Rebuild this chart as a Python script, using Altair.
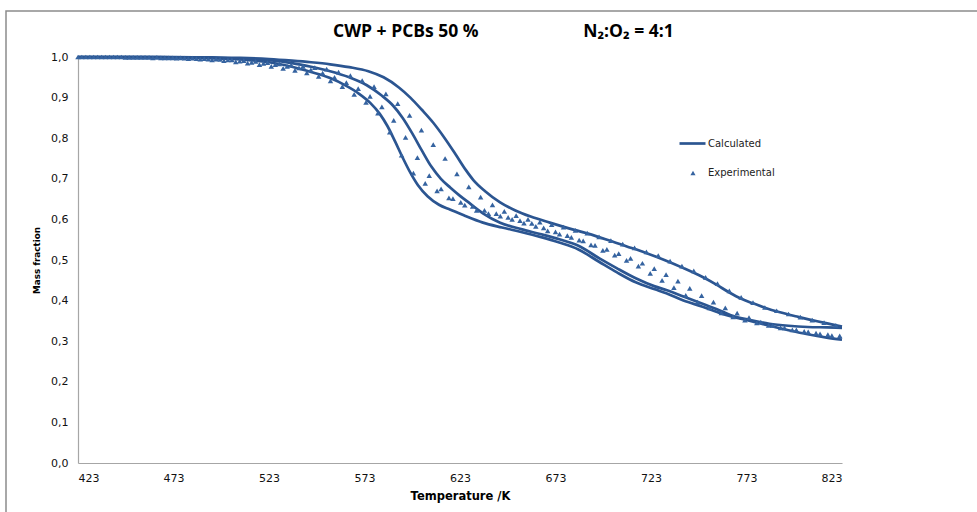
import altair as alt
import pandas as pd

LINE_COLOR = "#2B5591"
POINT_COLOR = "#3563A0"

# Calculated mass-fraction curves (three runs)
calc_a_t = [423, 450, 473, 493, 508, 523, 535, 545, 555, 563, 570, 576, 581, 585, 589, 593, 597, 601, 606, 612,
            618, 625, 635, 645, 655, 665, 675, 685, 696, 705, 715, 725, 731, 740, 750, 760, 766, 775, 785, 795,
            805, 815, 823]
calc_a_v = [1.000, 1.000, 0.999, 0.997, 0.994, 0.987, 0.976, 0.963, 0.948, 0.930, 0.910, 0.887, 0.860, 0.830,
            0.792, 0.752, 0.715, 0.684, 0.657, 0.636, 0.624, 0.610, 0.592, 0.580, 0.569, 0.557, 0.543, 0.526,
            0.495, 0.470, 0.445, 0.428, 0.418, 0.400, 0.385, 0.368, 0.360, 0.350, 0.338, 0.327, 0.317, 0.309,
            0.304]

calc_b_t = [423, 450, 473, 493, 508, 523, 535, 545, 555, 565, 574, 582, 588, 593, 598, 603, 608, 613, 618, 623,
            628, 635, 644, 655, 665, 675, 685, 696, 705, 715, 725, 731, 740, 750, 760, 766, 775, 785, 795, 805,
            815, 823]
calc_b_v = [1.000, 1.000, 0.999, 0.998, 0.996, 0.992, 0.985, 0.976, 0.965, 0.950, 0.931, 0.905, 0.880, 0.850,
            0.812, 0.770, 0.730, 0.700, 0.678, 0.658, 0.640, 0.615, 0.592, 0.576, 0.564, 0.551, 0.535, 0.504,
            0.480, 0.455, 0.435, 0.426, 0.410, 0.392, 0.374, 0.362, 0.352, 0.343, 0.338, 0.335, 0.334, 0.333]

calc_c_t = [423, 450, 473, 493, 508, 523, 535, 545, 555, 565, 575, 583, 591, 597, 603, 609, 615, 621, 626, 630,
            636, 644, 652, 660, 670, 680, 690, 700, 710, 720, 730, 740, 750, 757, 764, 770, 776, 783, 790, 800,
            810, 817, 823]
calc_c_v = [1.000, 1.000, 1.000, 0.999, 0.998, 0.995, 0.991, 0.987, 0.982, 0.975, 0.965, 0.950, 0.925, 0.900,
            0.870, 0.838, 0.800, 0.758, 0.722, 0.697, 0.670, 0.642, 0.622, 0.607, 0.592, 0.578, 0.565, 0.550,
            0.534, 0.518, 0.500, 0.480, 0.458, 0.440, 0.420, 0.405, 0.394, 0.382, 0.372, 0.360, 0.349, 0.342,
            0.336]

# Experimental mass fractions (three runs)
exp_a_t = [425.0, 431.2, 437.4, 443.6, 449.8, 456.0, 462.2, 468.4, 474.6, 480.8, 487.0, 493.2, 499.4, 505.6,
           511.8, 518.0, 524.2, 530.4, 536.6, 542.8, 549.0, 555.2, 561.4, 567.6, 573.8, 580.0, 586.2, 592.4,
           598.6, 604.8, 611.0, 617.2, 623.4, 629.6, 635.8, 642.0, 648.2, 654.4, 660.6, 666.8, 673.0, 679.2,
           685.4, 691.6, 697.8, 704.0, 710.2, 716.4, 722.6, 728.8, 735.0, 741.2, 747.4, 753.6, 759.8, 766.0,
           772.2, 778.4, 784.6, 790.8, 797.0, 803.2, 809.4, 815.6, 821.8]
exp_a_v = [1.000, 1.000, 1.000, 1.000, 0.999, 0.999, 0.998, 0.998, 0.997, 0.996, 0.995, 0.993, 0.991, 0.988,
           0.985, 0.981, 0.977, 0.972, 0.967, 0.961, 0.952, 0.941, 0.927, 0.908, 0.888, 0.862, 0.815, 0.758,
           0.714, 0.689, 0.670, 0.653, 0.642, 0.632, 0.622, 0.614, 0.605, 0.597, 0.590, 0.579, 0.569, 0.560,
           0.549, 0.537, 0.524, 0.512, 0.499, 0.485, 0.467, 0.450, 0.432, 0.413, 0.396, 0.382, 0.370, 0.360,
           0.352, 0.345, 0.339, 0.333, 0.328, 0.324, 0.320, 0.316, 0.313]

exp_b_t = [427.1, 433.3, 439.5, 445.7, 451.9, 458.1, 464.3, 470.5, 476.7, 482.9, 489.1, 495.3, 501.5, 507.7,
           513.9, 520.1, 526.3, 532.5, 538.7, 544.9, 551.1, 557.3, 563.5, 569.7, 575.9, 582.1, 588.3, 594.5,
           600.7, 606.9, 613.1, 619.3, 625.5, 631.7, 637.9, 644.1, 650.3, 656.5, 662.7, 668.9, 675.1, 681.3,
           687.5, 693.7, 699.9, 706.1, 712.3, 718.5, 724.7, 730.9, 737.1, 743.3, 749.5, 755.7, 761.9, 768.1,
           774.3, 780.5, 786.7, 792.9, 799.1, 805.3, 811.5, 817.7]
exp_b_v = [1.000, 1.000, 1.000, 1.000, 0.999, 0.999, 0.999, 0.998, 0.998, 0.997, 0.996, 0.995, 0.993, 0.990,
           0.987, 0.984, 0.981, 0.977, 0.973, 0.968, 0.960, 0.950, 0.937, 0.922, 0.903, 0.877, 0.844, 0.802,
           0.752, 0.708, 0.675, 0.651, 0.635, 0.622, 0.614, 0.608, 0.600, 0.591, 0.583, 0.572, 0.564, 0.556,
           0.547, 0.536, 0.526, 0.516, 0.504, 0.492, 0.479, 0.464, 0.448, 0.430, 0.412, 0.396, 0.382, 0.369,
           0.358, 0.347, 0.339, 0.333, 0.328, 0.323, 0.318, 0.314]

exp_c_t = [423.0, 429.2, 435.4, 441.6, 447.8, 454.0, 460.2, 466.4, 472.6, 478.8, 485.0, 491.2, 497.4, 503.6,
           509.8, 516.0, 522.2, 528.4, 534.6, 540.8, 547.0, 553.2, 559.4, 565.6, 571.8, 578.0, 584.2, 590.4,
           596.6, 602.8, 609.0, 615.2, 621.4, 627.6, 633.8, 640.0, 646.2, 652.4, 658.6, 664.8, 671.0, 677.2,
           683.4, 689.6, 695.8, 702.0, 708.2, 714.4, 720.6, 726.8, 733.0, 739.2, 745.4, 751.6, 757.8, 764.0,
           770.2, 776.4, 782.6, 788.8, 795.0, 801.2, 807.4, 813.6, 819.8]
exp_c_v = [1.000, 1.000, 1.000, 1.000, 0.999, 0.999, 0.999, 0.998, 0.998, 0.997, 0.996, 0.995, 0.994, 0.993,
           0.991, 0.989, 0.986, 0.983, 0.980, 0.977, 0.974, 0.970, 0.963, 0.954, 0.942, 0.927, 0.909, 0.885,
           0.856, 0.820, 0.784, 0.750, 0.712, 0.680, 0.655, 0.636, 0.620, 0.609, 0.600, 0.593, 0.587, 0.581,
           0.573, 0.566, 0.557, 0.548, 0.539, 0.530, 0.520, 0.511, 0.497, 0.485, 0.473, 0.457, 0.442, 0.424,
           0.408, 0.395, 0.383, 0.375, 0.367, 0.359, 0.352, 0.346, 0.339]

x_ticks = [423, 473, 523, 573, 623, 673, 723, 773, 823]
y_ticks = [0.0, 0.1, 0.2, 0.3, 0.4, 0.5, 0.6, 0.7, 0.8, 0.9, 1.0]


def long_frame(pairs, kind):
    frames = []
    for run, (t, v) in pairs.items():
        frames.append(pd.DataFrame({"T": t, "m": v, "run": run, "kind": kind}))
    return pd.concat(frames, ignore_index=True)


calc = long_frame({"a": (calc_a_t, calc_a_v), "b": (calc_b_t, calc_b_v), "c": (calc_c_t, calc_c_v)},
                  "Calculated")
expt = long_frame({"a": (exp_a_t, exp_a_v), "b": (exp_b_t, exp_b_v), "c": (exp_c_t, exp_c_v)},
                  "Experimental")

FONT = "DejaVu Sans"

x_enc = alt.X(
    "T:Q",
    scale=alt.Scale(domain=[423, 823], nice=False, zero=False),
    axis=alt.Axis(values=x_ticks, title="Temperature /K", format="d",
                  titleFontSize=11.5, titlePadding=7),
)
y_enc = alt.Y(
    "m:Q",
    scale=alt.Scale(domain=[0, 1], nice=False),
    axis=alt.Axis(
        values=y_ticks,
        title="Mass fraction",
        titleFontSize=8.8,
        titlePadding=9,
        labelExpr="replace(format(datum.value, '.1f'), '.', ',')",
    ),
)

lines = alt.Chart(calc).mark_line(interpolate="monotone", strokeWidth=2.7).encode(
    x=x_enc,
    y=y_enc,
    detail="run:N",
    color=alt.Color(
        "kind:N",
        scale=alt.Scale(domain=["Calculated"], range=[LINE_COLOR]),
        legend=alt.Legend(
            title=None, orient="none", legendX=600, legendY=72,
            symbolType="stroke", symbolSize=676, symbolStrokeWidth=2.7,
            labelOffset=1, labelFont=FONT, labelFontSize=10, labelColor="#222222",
        ),
    ),
)

points = alt.Chart(expt).mark_point(filled=True, size=30, opacity=1).encode(
    x="T:Q",
    y="m:Q",
    color=alt.value(POINT_COLOR),
    shape=alt.Shape(
        "kind:N",
        scale=alt.Scale(domain=["Experimental"], range=["triangle-up"]),
        legend=alt.Legend(
            title=None, orient="none", legendX=610, legendY=111,
            symbolSize=26, symbolFillColor=POINT_COLOR, symbolStrokeColor=POINT_COLOR,
            labelOffset=10, labelFont=FONT, labelFontSize=10, labelColor="#222222",
        ),
    ),
)

# outer chart-area border
frame = alt.Chart(pd.DataFrame({"k": [0]})).mark_rect(
    fill=None, stroke="#8C8C8C", strokeWidth=1.5
).encode(x=alt.value(-72), x2=alt.value(1200), y=alt.value(-46), y2=alt.value(1200))

title_text = "CWP + PCBs 50 %" + "\u00a0" * 23 + "N\u2082:O\u2082\u00a0=\u00a04:1"

chart = alt.layer(frame, lines, points).properties(
    width=764,
    height=406,
    padding={"left": 78, "top": 57, "right": 135, "bottom": 49},
    autosize=alt.AutoSizeParams(type="none"),
    title=alt.TitleParams(
        text=title_text, anchor="start", frame="group", dx=255, dy=48, offset=18,
        font="Open Sans", fontSize=17.5, fontWeight="bold", color="#000000",
    ),
).resolve_legend(color="independent", shape="independent").configure_view(
    stroke=None
).configure_axis(
    grid=False,
    ticks=False,
    domainColor="#A6A6A6",
    domainWidth=1.2,
    labelFont=FONT,
    labelFontSize=11,
    labelColor="#111111",
    titleFont=FONT,
    titleFontWeight="bold",
    titleColor="#000000",
).configure_axisX(
    labelPadding=9
).configure_axisY(
    labelPadding=10
)

chart.save("out.html", embed_options={"renderer": "svg", "actions": False})
